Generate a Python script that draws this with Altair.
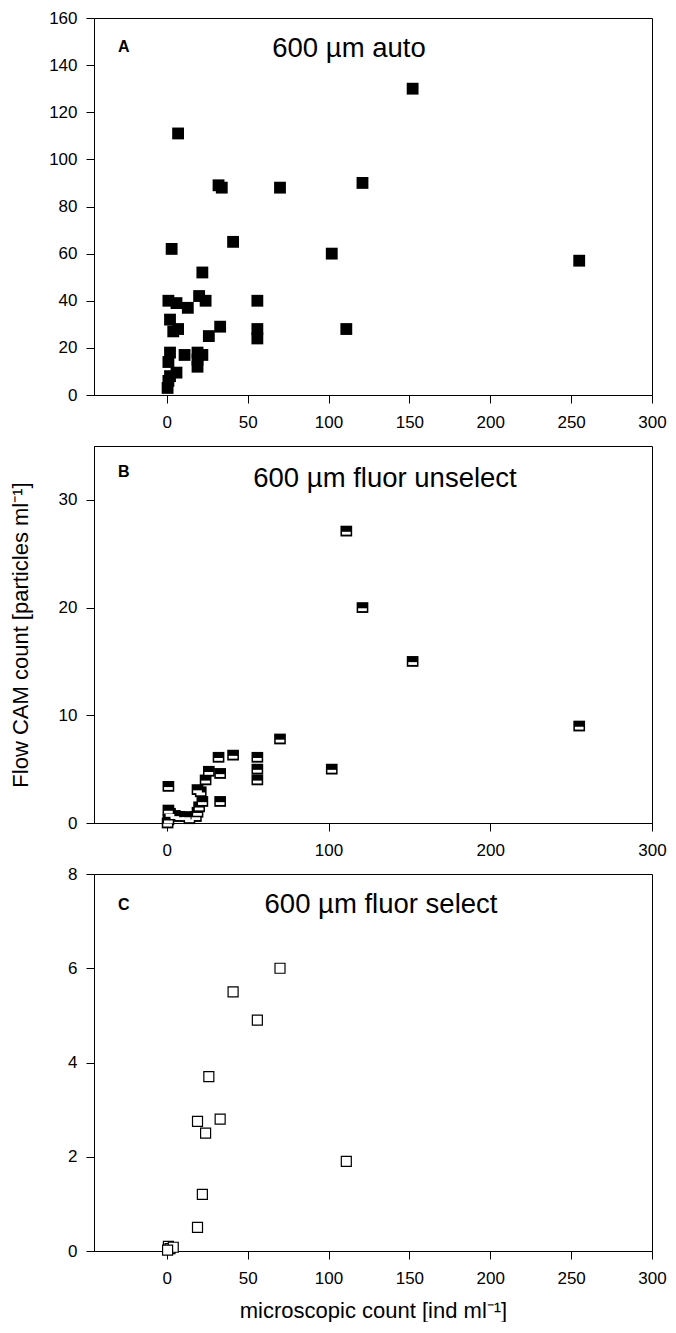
import altair as alt
import pandas as pd

# ---- Panel A: 600 µm auto (filled squares) ----
a_micro = [0.5, 1, 2, 6, 1, 2, 11, 19, 22, 19, 19, 4, 7, 2, 1, 6, 13, 20, 24, 22,
           33, 26, 56, 56, 56, 3, 41, 32, 34, 70, 7, 102, 121, 152, 255, 111]
a_flow = [3, 6, 8, 9.5, 14, 18, 17, 18, 17, 15, 12, 27, 28, 32, 40, 39, 37, 42, 40, 52,
          29, 25, 28, 24, 40, 62, 65, 89, 88, 88, 111, 60, 90, 130, 57, 28]

# ---- Panel B: 600 µm fluor unselect (half-filled squares) ----
b_micro = [111, 121, 152, 255, 102, 70, 41, 32, 56, 56, 56, 26, 33, 24, 1, 19, 21, 33,
           22, 20, 19, 1, 2, 5, 8, 12, 14, 1, 0.5, 18]
b_flow = [27.1, 20.0, 15.0, 9.0, 5.0, 7.8, 6.3, 6.1, 6.1, 5.0, 4.0, 4.8, 4.6, 4.0, 3.4, 3.1, 2.9, 2.0,
          2.0, 1.5, 1.0, 1.2, 0.9, 0.7, 0.6, 0.6, 0.4, 0.3, 0.0, 0.6]

# ---- Panel C: 600 µm fluor select (open squares) ----
c_micro = [70, 41, 56, 26, 19, 24, 33, 22, 19, 111, 1, 2, 4, 0.5]
c_flow = [6.0, 5.5, 4.9, 3.7, 2.75, 2.5, 2.8, 1.2, 0.5, 1.9, 0.1, 0.05, 0.08, 0.02]

x_ticks_ac = [0, 50, 100, 150, 200, 250, 300]
x_ticks_b = [0, 100, 200, 300]
y_ticks_a = [0, 20, 40, 60, 80, 100, 120, 140, 160]
y_ticks_b = [0, 10, 20, 30]
y_ticks_c = [0, 2, 4, 6, 8]

panel_letters = ["A", "B", "C"]
panel_titles = ["600 µm auto", "600 µm fluor unselect", "600 µm fluor select"]
y_title = "Flow CAM count [particles ml\u207b\u00b9]"
x_title = "microscopic count [ind ml\u207b\u00b9]"

FONT = "Liberation Sans"
W, H = 558, 377
XDOM = [-45, 300]

dfa = pd.DataFrame({"micro": a_micro, "flow": a_flow})
dfb = pd.DataFrame({"micro": b_micro, "flow": b_flow})
dfc = pd.DataFrame({"micro": c_micro, "flow": c_flow})


def xenc(ticks, title=None):
    return alt.X("micro:Q",
                 scale=alt.Scale(domain=XDOM, nice=False, zero=False),
                 axis=alt.Axis(values=ticks, title=title, labelPadding=11,
                               titlePadding=14))


def yenc(ticks, top, title=None):
    return alt.Y("flow:Q",
                 scale=alt.Scale(domain=[0, top], nice=False, zero=False),
                 axis=alt.Axis(values=ticks, title=title, labelPadding=9,
                               titlePadding=26))


def annotations(i, letter_y, title_x, title_y):
    lt = alt.Chart(pd.DataFrame({"t": [panel_letters[i]]})).mark_text(
        align="left", baseline="alphabetic", fontSize=16, fontWeight="bold",
        font=FONT, color="black"
    ).encode(text="t:N", x=alt.value(24), y=alt.value(letter_y))
    tt = alt.Chart(pd.DataFrame({"t": [panel_titles[i]]})).mark_text(
        align="center", baseline="alphabetic", fontSize=27.5,
        font=FONT, color="black"
    ).encode(text="t:N", x=alt.value(title_x), y=alt.value(title_y))
    return lt, tt


# Panel A
pa = alt.Chart(dfa).mark_point(shape="square", filled=True, size=140,
                               color="black", opacity=1).encode(
    x=xenc(x_ticks_ac), y=yenc(y_ticks_a, 160))
la, ta = annotations(0, 34, 255, 39)
chartA = alt.layer(pa, la, ta).properties(width=W, height=H)

# Panel B: black body with white bar (half-filled look)
body = "M-1,-0.92L1,-0.92L1,0.92L-1,0.92Z"
bar = "M-0.74,0.12L0.74,0.12L0.74,0.6L-0.74,0.6Z"
pb1 = alt.Chart(dfb).mark_point(shape=body, filled=True, size=137,
                                color="black", opacity=1).encode(
    x=xenc(x_ticks_b), y=yenc(y_ticks_b, 35, y_title))
pb2 = alt.Chart(dfb).mark_point(shape=bar, filled=True, size=137,
                                color="white", opacity=1).encode(
    x=xenc(x_ticks_b), y=yenc(y_ticks_b, 35, y_title))
lb, tb = annotations(1, 31, 291, 41)
chartB = alt.layer(pb1, pb2, lb, tb).properties(width=W, height=H)

# Panel C
pc = alt.Chart(dfc).mark_point(shape="square", filled=False, size=100,
                               stroke="black", strokeWidth=1.2, fill="white",
                               fillOpacity=1, opacity=1).encode(
    x=xenc(x_ticks_ac, x_title), y=yenc(y_ticks_c, 8))
lc, tc = annotations(2, 36, 287, 39)
chartC = alt.layer(pc, lc, tc).properties(width=W, height=H)

chart = alt.vconcat(chartA, chartB, chartC, spacing=51, bounds="flush").properties(
    padding={"left": 0, "top": 0, "right": 0, "bottom": 0}
).configure_view(
    stroke="black", strokeWidth=1
).configure_axis(
    grid=False, domainColor="black", domainWidth=1, tickColor="black", tickWidth=1,
    tickSize=8, labelColor="black", labelFont=FONT, labelFontSize=17,
    titleFont=FONT, titleFontSize=22, titleFontWeight="normal", titleColor="black",
    labelFlush=False, labelOverlap=False
)

chart.save("out.html", embed_options={"renderer": "svg", "actions": False})
